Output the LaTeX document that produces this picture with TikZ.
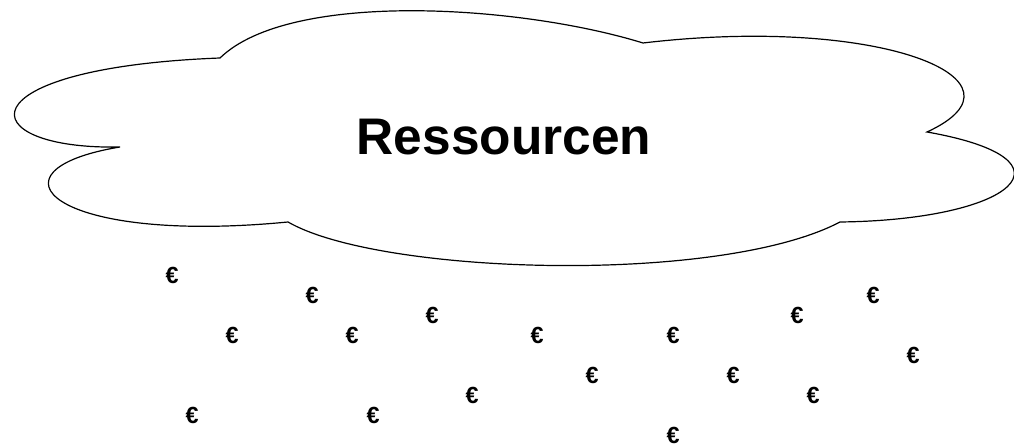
\documentclass[tikz,border=0pt]{standalone}
\usepackage{fontspec}
\setmainfont{Liberation Sans}
\usepackage{tikz}

\begin{document}
\begin{tikzpicture}[x=0.75pt,y=0.75pt,yscale=-1,xscale=1,
  euro/.style={inner sep=0pt,font=\fontsize{17.5}{17.5}\selectfont\bfseries}]
%set diagram size to 1014 x 448
\useasboundingbox (0,0) rectangle (1014,448);

%Shape: Cloud [id:cloud1]
\draw [line width=0.9]  (220,58) .. controls (-40,68) and (-30,150) .. (120,147)
  .. controls (-20,170) and (50,245) .. (288,222)
  .. controls (380,275) and (720,285) .. (840,222)
  .. controls (1012,220) and (1085,160) .. (927,132)
  .. controls (1040,80) and (880,15) .. (643,43)
  .. controls (520,5) and (290,-10) .. (220,58) -- cycle ;

% Text Node
\draw (504,155) node [anchor=base][inner sep=0pt]  (res) {\fontsize{38.6}{38.6}\selectfont\bfseries Ressourcen};

% Text Node
\draw (172,275) node [euro] (eur1) {€};
% Text Node
\draw (312,295) node [euro] (eur2) {€};
% Text Node
\draw (873,295) node [euro] (eur3) {€};
% Text Node
\draw (432,315) node [euro] (eur4) {€};
% Text Node
\draw (797,315) node [euro] (eur5) {€};
% Text Node
\draw (232,335) node [euro] (eur6) {€};
% Text Node
\draw (352,335) node [euro] (eur7) {€};
% Text Node
\draw (537,335) node [euro] (eur8) {€};
% Text Node
\draw (673,335) node [euro] (eur9) {€};
% Text Node
\draw (913,355) node [euro] (eur10) {€};
% Text Node
\draw (592,375) node [euro] (eur11) {€};
% Text Node
\draw (733,375) node [euro] (eur12) {€};
% Text Node
\draw (472,395) node [euro] (eur13) {€};
% Text Node
\draw (813,395) node [euro] (eur14) {€};
% Text Node
\draw (192,415) node [euro] (eur15) {€};
% Text Node
\draw (373,415) node [euro] (eur16) {€};
% Text Node
\draw (673,435) node [euro] (eur17) {€};

\end{tikzpicture}
\end{document}
